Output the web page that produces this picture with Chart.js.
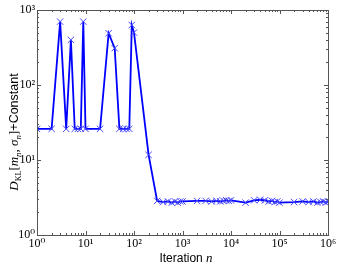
<!DOCTYPE html>
<html>
<head>
<meta charset="utf-8">
<script src="https://cdn.jsdelivr.net/npm/chart.js@4/dist/chart.umd.min.js"></script>
<style>
  html, body { margin: 0; padding: 0; background: #fff; }
  #wrap { width: 340px; height: 268px; }
</style>
</head>
<body>
<div id="wrap"><canvas id="klChart" width="340" height="268"></canvas></div>
<script>
// iteration counts (1..9 x 10^k)
const iterations = [
  1, 2, 3, 4, 5, 6, 7, 8, 9,
  10, 20, 30, 40, 50, 60, 70, 80, 90,
  100, 200, 300, 400, 500, 600, 700, 800, 900,
  1000, 2000, 3000, 4000, 5000, 6000, 7000, 8000, 9000,
  10000, 20000, 30000, 40000, 50000, 60000, 70000, 80000, 90000,
  100000, 200000, 300000, 400000, 500000, 600000, 700000, 800000, 900000,
  1000000
];
// D_KL + constant
const klValues = [
  26, 26, 700, 26, 400, 26, 26, 26, 700,
  26, 26, 490, 310, 26, 26, 26, 26, 630,
  500, 11.7, 2.85, 2.75, 2.8, 2.7, 2.8, 2.7, 2.8,
  2.8, 2.85, 2.85, 2.8, 2.85, 2.8, 2.85, 2.9, 2.85,
  2.9, 2.7, 2.9, 2.95, 2.9, 2.8, 2.85, 2.75, 2.8,
  2.7, 2.75, 2.8, 2.75, 2.8, 2.7, 2.75, 2.8, 2.7,
  2.8
];
// tick label decades
const xDecades = [0, 1, 2, 3, 4, 5, 6];
const yDecades = [0, 1, 2, 3];

const sup = { '0': '\u2070', '1': '\u00b9', '2': '\u00b2', '3': '\u00b3', '4': '\u2074', '5': '\u2075', '6': '\u2076' };
const isPow10 = v => Math.abs(Math.log10(v) - Math.round(Math.log10(v))) < 1e-9;
const powLabel = v => isPow10(v) ? '10' + sup[String(Math.round(Math.log10(v)))] : '';

function decadeTicks(decades) {
  const out = [];
  decades.forEach((d, i) => {
    const last = i === decades.length - 1;
    for (let m = 1; m <= (last ? 1 : 9); m++) out.push({ value: m * Math.pow(10, d) });
  });
  return out;
}

const serif = '"Liberation Serif", "DejaVu Serif", serif';
const sans = '"Liberation Sans", Arial, sans-serif';

// frame + inward ticks on all four sides, and the axis titles
const framePlugin = {
  id: 'frame',
  afterDraw(chart) {
    const { ctx, chartArea: a, scales } = chart;
    ctx.save();
    ctx.strokeStyle = '#555';
    ctx.lineWidth = 1;
    ctx.beginPath();
    scales.x.ticks.forEach(t => {
      const px = Math.round(scales.x.getPixelForValue(t.value)) + 0.5;
      const len = isPow10(t.value) ? 4 : 2;
      ctx.moveTo(px, a.bottom); ctx.lineTo(px, a.bottom - len);
      ctx.moveTo(px, a.top); ctx.lineTo(px, a.top + len);
    });
    scales.y.ticks.forEach(t => {
      const py = Math.round(scales.y.getPixelForValue(t.value)) + 0.5;
      const len = isPow10(t.value) ? 4 : 2;
      ctx.moveTo(a.left, py); ctx.lineTo(a.left + len, py);
      ctx.moveTo(a.right, py); ctx.lineTo(a.right - len, py);
    });
    ctx.stroke();
    ctx.strokeRect(Math.round(a.left) + 0.5, Math.round(a.top) + 0.5,
      Math.round(a.right - a.left), Math.round(a.bottom - a.top));

    ctx.fillStyle = '#000';
    ctx.textBaseline = 'alphabetic';

    // x title: "Iteration n"
    const xParts = [
      { t: 'Iteration ', f: '12px ' + sans, dy: 0 },
      { t: 'n', f: 'italic 13px ' + serif, dy: 0 }
    ];
    drawParts(ctx, xParts, 186, 262);

    // y title, rotated
    ctx.translate(18, 132);
    ctx.rotate(-Math.PI / 2);
    const yParts = [
      { t: 'D', f: 'italic 13px ' + serif, dy: 0 },
      { t: 'KL', f: '8px ' + serif, dy: 3 },
      { t: '[', f: '13px ' + serif, dy: 0 },
      { t: 'm', f: 'italic 13px ' + serif, dy: 0 },
      { t: 'n', f: 'italic 9px ' + serif, dy: 3 },
      { t: ', ', f: '13px ' + serif, dy: 0 },
      { t: '\u03c3', f: 'italic 13px ' + serif, dy: 0 },
      { t: 'n', f: 'italic 9px ' + serif, dy: 3 },
      { t: ']', f: '13px ' + serif, dy: 0 },
      { t: '+Constant', f: '12.5px ' + sans, dy: 0 }
    ];
    drawParts(ctx, yParts, 0, 0);
    ctx.restore();
  }
};

function drawParts(ctx, parts, cx, baseY) {
  let total = 0;
  parts.forEach(p => { ctx.font = p.f; p.w = ctx.measureText(p.t).width; total += p.w; });
  let x = cx - total / 2;
  ctx.textAlign = 'left';
  parts.forEach(p => { ctx.font = p.f; ctx.fillText(p.t, x, baseY + p.dy); x += p.w; });
}

const ctx = document.getElementById('klChart').getContext('2d');
const chart = new Chart(ctx, {
  type: 'line',
  data: {
    datasets: [{
      data: iterations.map((n, i) => ({ x: n, y: klValues[i] })),
      borderColor: '#0000ff',
      borderWidth: 1.8,
      pointStyle: 'crossRot',
      pointRadius: 4.5,
      pointBorderWidth: 1,
      pointBorderColor: '#4646ff',
      pointBackgroundColor: '#4646ff',
      tension: 0,
      fill: false
    }]
  },
  options: {
    responsive: false,
    animation: false,
    layout: { padding: { top: 10, right: 12, left: 0, bottom: 0 } },
    plugins: { legend: { display: false }, tooltip: { enabled: false } },
    scales: {
      x: {
        type: 'logarithmic',
        min: 1, max: 1e6,
        grid: { display: false, drawTicks: false },
        border: { display: false },
        afterBuildTicks: s => { s.ticks = decadeTicks(xDecades); },
        afterFit: s => { s.height = 33; },
        ticks: {
          autoSkip: false, maxRotation: 0, padding: 2,
          color: '#000', font: { family: serif, size: 12 },
          callback: v => powLabel(v)
        }
      },
      y: {
        type: 'logarithmic',
        min: 1, max: 1000,
        grid: { display: false, drawTicks: false },
        border: { display: false },
        afterBuildTicks: s => { s.ticks = decadeTicks(yDecades); },
        afterFit: s => { s.width = 37; },
        ticks: {
          autoSkip: false, padding: 2,
          color: '#000', font: { family: serif, size: 12 },
          callback: v => powLabel(v)
        }
      }
    }
  },
  plugins: [framePlugin]
});
</script>
</body>
</html>
